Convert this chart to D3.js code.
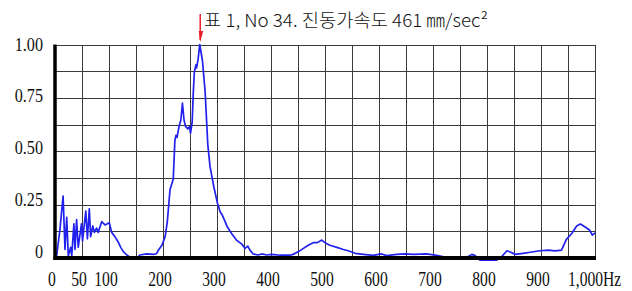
<!DOCTYPE html>
<html>
<head>
<meta charset="utf-8">
<script src="https://cdn.jsdelivr.net/npm/d3@7"></script>
<style>
  body { margin: 0; background: #fff; }
  .grid line { stroke: #3a3a3a; stroke-width: 1; shape-rendering: crispEdges; }
  .lbl { font-family: "Liberation Serif", "DejaVu Serif", serif; fill: #111; }
</style>
</head>
<body>
<div id="chart"></div>
<script>
// spectrum (Hz, normalised amplitude)
const freq = [3, 9, 15, 18.5, 21.7, 24.6, 29, 31, 35, 37, 40, 43, 49, 51, 57, 60, 63.5, 66, 70, 73, 77, 80,
  86.5, 92.6, 97, 100.5, 105, 111, 117, 121.7, 126.5, 133, 140, 146, 151, 157, 170, 182, 188, 191, 198,
  204, 208, 213, 219, 222, 224, 226, 230, 233, 236, 239, 242, 246, 249, 251, 254, 256, 258, 261, 262,
  265, 268, 273, 278, 283, 287, 294, 301, 306, 310, 315, 319, 327, 336, 346, 352, 357, 361, 367, 376,
  383, 392, 401, 417, 435, 441, 451, 460, 469, 478, 486, 494, 500, 509, 522, 534, 543, 556, 571, 589,
  605, 614, 633, 648, 664, 688, 707, 720, 731, 750, 765, 772, 778, 787, 818, 827, 837, 844, 852, 867,
  880, 898, 914, 926, 938, 947, 957, 966, 973, 981, 990, 995, 1000];
const amp = [0.01, 0.13, 0.29, 0.04, 0.19, 0.01, 0.05, 0.01, 0.16, 0.04, 0.18, 0.05, 0.16, 0.08, 0.22, 0.09,
  0.23, 0.10, 0.15, 0.12, 0.14, 0.12, 0.17, 0.155, 0.16, 0.165, 0.12, 0.10, 0.075, 0.05, 0.03, 0.014,
  0.003, -0.005, -0.005, 0.014, 0.019, 0.017, 0.02, 0.035, 0.06, 0.10, 0.17, 0.32, 0.37, 0.55, 0.575,
  0.565, 0.62, 0.645, 0.725, 0.645, 0.615, 0.605, 0.615, 0.585, 0.635, 0.77, 0.87, 0.905, 0.89, 0.93,
  1.0, 0.925, 0.78, 0.53, 0.43, 0.335, 0.255, 0.215, 0.20, 0.17, 0.146, 0.115, 0.084, 0.065, 0.045,
  0.056, 0.037, 0.019, 0.014, 0.019, 0.014, 0.017, 0.013, 0.013, 0.017, 0.03, 0.045, 0.06, 0.072,
  0.072, 0.084, 0.072, 0.06, 0.05, 0.04, 0.034, 0.022, 0.017, 0.012, 0.019, 0.011, 0.017, 0.019,
  0.017, 0.019, 0.012, 0.005, 0.003, 0.002, 0.006, 0.017, 0.011, -0.01, -0.01, 0.006, 0.034, 0.027,
  0.017, 0.022, 0.027, 0.034, 0.037, 0.033, 0.037, 0.087, 0.115, 0.15, 0.159, 0.146, 0.131, 0.107, 0.118];

const xTicks = [0, 50, 100, 200, 300, 400, 500, 600, 700, 800, 900];
const yTicks = [0, 0.25, 0.5, 0.75, 1];
const yTickLabels = ['0', '0.25', '0.50', '0.75', '1.00'];
const title = '표 1, No 34. 진동가속도 461 ㎜/sec²';

const width = 632, height = 291;

const svg = d3.select('#chart').append('svg')
    .attr('width', width)
    .attr('height', height);

const x = d3.scaleLinear().domain([0, 1000]).range([55, 595]);
const y = d3.scaleLinear().domain([0, 1]).range([258, 44.5]);

// grid
const grid = svg.append('g').attr('class', 'grid');
grid.selectAll('.v')
    .data(d3.range(0, 1001, 50))
    .join('line')
    .attr('x1', d => Math.round(x(d)) + 0.5).attr('x2', d => Math.round(x(d)) + 0.5)
    .attr('y1', y(1)).attr('y2', y(0));
grid.selectAll('.h')
    .data(d3.range(0, 1.0001, 0.125))
    .join('line')
    .attr('x1', x(0)).attr('x2', x(1000))
    .attr('y1', d => Math.round(y(d)) + 0.5).attr('y2', d => Math.round(y(d)) + 0.5);

// spectrum line
const line = d3.line()
    .x((d, i) => x(freq[i]))
    .y(d => y(d));

svg.append('path')
    .datum(amp)
    .attr('d', line)
    .attr('fill', 'none')
    .attr('stroke', '#2121ee')
    .attr('stroke-width', 1.7)
    .attr('stroke-linejoin', 'round');

// thick axes on top
svg.append('line')
    .attr('x1', x(0)).attr('x2', x(0))
    .attr('y1', y(1)).attr('y2', y(0) + 2)
    .attr('stroke', '#000').attr('stroke-width', 3.5);
svg.append('line')
    .attr('x1', x(0) - 1.5).attr('x2', x(1000) + 1)
    .attr('y1', y(0)).attr('y2', y(0))
    .attr('stroke', '#000').attr('stroke-width', 4);

// y labels
svg.append('g').selectAll('text')
    .data(yTicks)
    .join('text')
    .attr('class', 'lbl')
    .style('font-size', '19px')
    .attr('text-anchor', 'end')
    .attr('transform', d => `translate(43,${y(d) - (1 - d) * 6 + 6}) scale(0.85,1)`)
    .text((d, i) => yTickLabels[i]);

// x labels
svg.append('g').selectAll('text')
    .data(xTicks)
    .join('text')
    .attr('class', 'lbl')
    .style('font-size', '20px')
    .attr('text-anchor', 'middle')
    .attr('transform', d => `translate(${x(d) - 3},286) scale(0.78,1)`)
    .text(d => d);

svg.append('text')
    .attr('class', 'lbl')
    .style('font-size', '20px')
    .attr('text-anchor', 'start')
    .attr('transform', `translate(${x(1000) - 27},286) scale(0.78,1)`)
    .text('1,000Hz');

// title and arrow marking the peak
const peakI = d3.maxIndex(amp);
const px = x(freq[peakI]);

svg.append('text')
    .attr('x', 204)
    .attr('y', 27)
    .attr('textLength', 284)
    .attr('lengthAdjust', 'spacingAndGlyphs')
    .style('font-family', '"Noto Sans CJK KR", "Noto Sans", sans-serif')
    .style('font-size', '18px')
    .style('font-weight', 300)
    .style('fill', '#111')
    .text(title);

svg.append('line')
    .attr('x1', px + 0.5).attr('x2', px + 0.5)
    .attr('y1', 14).attr('y2', 40)
    .attr('stroke', '#e8202a').attr('stroke-width', 1.5);
svg.append('path')
    .attr('d', `M${px - 1},31 L${px + 3.5},31 L${px + 0.5},42 Z`)
    .attr('fill', '#e8202a');
</script>
</body>
</html>
